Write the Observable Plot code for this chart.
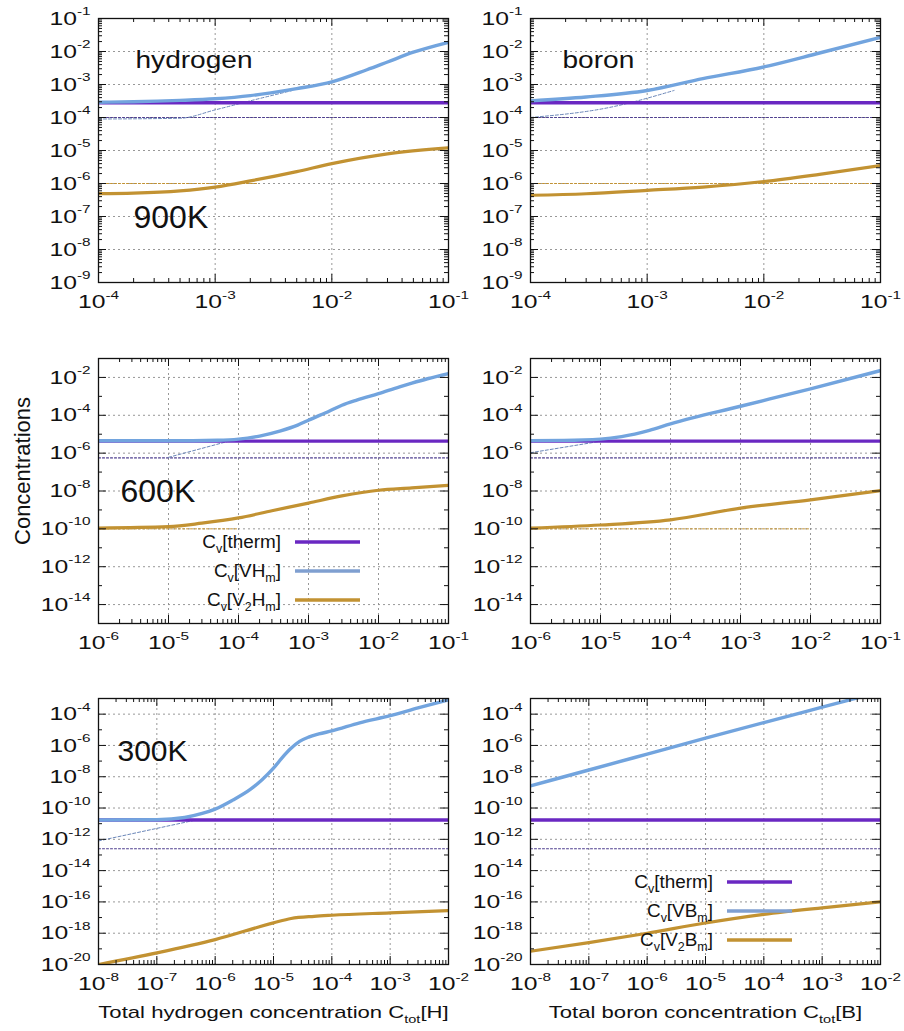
<!DOCTYPE html>
<html><head><meta charset="utf-8">
<script src="https://cdn.jsdelivr.net/npm/d3@7"></script>
<script src="https://cdn.jsdelivr.net/npm/@observablehq/plot@0.6"></script>
<style>
body{margin:0;background:#fff;}
#chart{position:relative;width:904px;height:1031px;overflow:hidden;background:#fff;font-family:"Liberation Sans",Arial,sans-serif;}
.panel{position:absolute;}
.panel svg{overflow:visible;}
</style></head><body><div id="chart"></div>
<script>
// ---------------- DATA ----------------
// 900 K, hydrogen
const h900_therm_x = [1e-4, 1e-1];
const h900_therm   = [2.8e-4, 2.8e-4];
const h900_VH_x = [1e-4, 2e-4, 5e-4, 1e-3, 2e-3, 3e-3, 5e-3, 1e-2, 2e-2, 3e-2, 5e-2, 1e-1];
const h900_VH   = [2.9e-4, 3.0e-4, 3.3e-4, 3.7e-4, 4.6e-4, 5.6e-4, 7.5e-4, 1.2e-3, 2.8e-3, 4.8e-3, 9.5e-3, 1.9e-2];
const h900_V2H_x = [1e-4, 2e-4, 5e-4, 1e-3, 2e-3, 5e-3, 1e-2, 3e-2, 1e-1];
const h900_V2H   = [4.9e-7, 5.1e-7, 6.0e-7, 7.8e-7, 1.2e-6, 2.3e-6, 4.0e-6, 7.9e-6, 1.2e-5];
const h900_thermLow_x = [1e-4, 1e-1];
const h900_thermLow   = [1e-4, 1e-4];
const h900_VHlow_x = [1e-4, 5e-4, 1e-3, 2e-3, 4.6e-3];
const h900_VHlow   = [9e-5, 9.5e-5, 1.7e-4, 3.2e-4, 6.6e-4];
const h900_V2Hlow_x = [1e-4, 2.3e-3];
const h900_V2Hlow   = [1e-6, 1e-6];

// 900 K, boron
const b900_therm_x = [1e-4, 1e-1];
const b900_therm   = [2.8e-4, 2.8e-4];
const b900_VB_x = [1e-4, 3e-4, 1e-3, 3e-3, 1e-2, 3e-2, 1e-1];
const b900_VB   = [3.2e-4, 4.2e-4, 6.6e-4, 1.5e-3, 3.4e-3, 9.0e-3, 2.7e-2];
const b900_V2B_x = [1e-4, 3e-4, 1e-3, 3e-3, 1e-2, 3e-2, 1e-1];
const b900_V2B   = [4.4e-7, 4.9e-7, 6.2e-7, 7.8e-7, 1.15e-6, 1.9e-6, 3.5e-6];
const b900_thermLow_x = [1e-4, 1e-1];
const b900_thermLow   = [1e-4, 1e-4];
const b900_VBlow_x = [1e-4, 4.7e-4, 1.7e-3];
const b900_VBlow   = [1e-4, 2e-4, 6.6e-4];
const b900_V2Blow_x = [1e-4, 1e-1];
const b900_V2Blow   = [1e-6, 1e-6];

// 600 K, hydrogen
const h600_therm_x = [1e-6, 1e-1];
const h600_therm   = [4.3e-6, 4.3e-6];
const h600_VH_x = [1e-6, 1e-5, 5e-5, 1e-4, 2e-4, 4e-4, 7e-4, 1e-3, 2e-3, 3e-3, 5e-3, 1e-2, 2e-2, 3e-2, 5e-2, 1e-1];
const h600_VH   = [4.5e-6, 4.5e-6, 4.8e-6, 5.5e-6, 8e-6, 1.5e-5, 3e-5, 5.5e-5, 1.7e-4, 3.4e-4, 6.5e-4, 1.4e-3, 3.2e-3, 5e-3, 8.5e-3, 1.6e-2];
const h600_V2H_x = [1e-6, 1e-5, 3e-5, 1e-4, 3e-4, 1e-3, 3e-3, 1e-2, 3e-2, 1e-1];
const h600_V2H   = [1.1e-10, 1.3e-10, 2e-10, 3.8e-10, 9e-10, 2.3e-9, 5.5e-9, 1.1e-8, 1.45e-8, 2e-8];
const h600_thermLow_x = [1e-6, 1e-1];
const h600_thermLow   = [5.6e-7, 5.6e-7];
const h600_VHlow_x = [1e-5, 1e-4];
const h600_VHlow   = [6e-7, 5.9e-6];
const h600_V2Hlow_x = [1e-6, 1e-4];
const h600_V2Hlow   = [1e-10, 1e-10];

// 600 K, boron
const b600_therm_x = [1e-6, 1e-1];
const b600_therm   = [4.3e-6, 4.3e-6];
const b600_VB_x = [1e-6, 3e-6, 1e-5, 2e-5, 5e-5, 1e-4, 1e-3, 1e-2, 1e-1];
const b600_VB   = [4.6e-6, 4.7e-6, 5.5e-6, 7.5e-6, 1.6e-5, 3.5e-5, 3e-4, 2.5e-3, 2.3e-2];
const b600_V2B_x = [1e-6, 1e-5, 1e-4, 1e-3, 1e-2, 1e-1];
const b600_V2B   = [1.1e-10, 1.6e-10, 3e-10, 1.25e-9, 3.4e-9, 1.05e-8];
const b600_thermLow_x = [1e-6, 1e-1];
const b600_thermLow   = [5.6e-7, 5.6e-7];
const b600_VBlow_x = [1e-6, 1.1e-5];
const b600_VBlow   = [1.05e-6, 4.5e-6];
const b600_V2Blow_x = [1e-6, 1e-2];
const b600_V2Blow   = [1e-10, 1e-10];

// 300 K, hydrogen
const h300_therm_x = [1e-8, 1e-2];
const h300_therm   = [1.7e-11, 1.7e-11];
const h300_VH_x = [1e-8, 1e-7, 3e-7, 6e-7, 1e-6, 2e-6, 4e-6, 6.3e-6, 1e-5, 1.4e-5, 2e-5, 2.8e-5, 4e-5, 6e-5, 1e-4, 3e-4, 1e-3, 3e-3, 1e-2];
const h300_VH   = [1.7e-11, 1.8e-11, 2.5e-11, 4.5e-11, 8.5e-11, 3.2e-10, 1.55e-9, 6.2e-9, 3.5e-8, 1.6e-7, 6.5e-7, 1.8e-6, 3.4e-6, 5.4e-6, 8.5e-6, 2.8e-5, 8e-5, 2.5e-4, 8.3e-4];
const h300_V2H_x = [1e-8, 1e-7, 1e-6, 1e-5, 2e-5, 5e-5, 1e-4, 1e-3, 1e-2];
const h300_V2H   = [1e-20, 5.5e-20, 3.9e-19, 4.6e-18, 8.7e-18, 1.2e-17, 1.4e-17, 2e-17, 2.8e-17];
const h300_thermLow_x = [1e-8, 1e-2];
const h300_thermLow   = [2.5e-13, 2.5e-13];
const h300_VHlow_x = [1e-8, 4.6e-7];
const h300_VHlow   = [7.9e-13, 1.7e-11];

// 300 K, boron
const b300_therm_x = [1e-8, 1e-2];
const b300_therm   = [1.7e-11, 1.7e-11];
const b300_VB_x = [1e-8, 1e-7, 1e-6, 1e-5, 1e-4, 1e-3, 1e-2];
const b300_VB   = [2.6e-9, 2.7e-8, 2.8e-7, 2.9e-6, 2.9e-5, 2.8e-4, 2.7e-3];
const b300_V2B_x = [1e-8, 1e-7, 1e-6, 1e-5, 1e-4, 1e-3, 1e-2];
const b300_V2B   = [7e-20, 2.5e-19, 1e-18, 4.5e-18, 1.6e-17, 4.2e-17, 1e-16];
const b300_thermLow_x = [1e-8, 1e-2];
const b300_thermLow   = [2.5e-13, 2.5e-13];

// tick values
const X900 = [1e-4, 1e-3, 1e-2, 1e-1];
const Y900 = [1e-9, 1e-8, 1e-7, 1e-6, 1e-5, 1e-4, 1e-3, 1e-2, 1e-1];
const X600 = [1e-6, 1e-5, 1e-4, 1e-3, 1e-2, 1e-1];
const Y600 = [1e-14, 1e-12, 1e-10, 1e-8, 1e-6, 1e-4, 1e-2];
const Y600odd = [1e-13, 1e-11, 1e-9, 1e-7, 1e-5, 1e-3];
const X300 = [1e-8, 1e-7, 1e-6, 1e-5, 1e-4, 1e-3, 1e-2];
const Y300 = [1e-20, 1e-18, 1e-16, 1e-14, 1e-12, 1e-10, 1e-8, 1e-6, 1e-4];
const Y300odd = [1e-19, 1e-17, 1e-15, 1e-13, 1e-11, 1e-9, 1e-7, 1e-5];

// labels
const legendH = ["C_{v}[therm]", "C_{v}[VH_{m}]", "C_{v}[V_{2}H_{m}]"];
const legendB = ["C_{v}[therm]", "C_{v}[VB_{m}]", "C_{v}[V_{2}B_{m}]"];
const xTitleH = "Total hydrogen concentration C_{tot}[H]";
const xTitleB = "Total boron concentration C_{tot}[B]";
const yTitle = "Concentrations";

// ---------------- STYLE ----------------
const PURPLE = "#6a28c2", BLUE = "#72a4de", GOLD = "#c29232", LEGBLUE = "#7f9fd0";
const FONT = "'Liberation Sans', Arial, Helvetica, sans-serif";

const zip = (xs, ys) => xs.map((x, i) => ({x, y: ys[i]}));
const minors = decs => decs.slice(0, -1).flatMap(d => [2,3,4,5,6,7,8,9].map(m => d * m));

function series(xs, ys, kind) {
  const st = {
    therm: {stroke: PURPLE, strokeWidth: 3.4},
    VH: {stroke: BLUE, strokeWidth: 3.4},
    V2H: {stroke: GOLD, strokeWidth: 3.2},
    thermLow: {stroke: "#4f3f8f", strokeWidth: 1.1, strokeDasharray: "2,2"},
    VHlow: {stroke: "#6a86b8", strokeWidth: 1, strokeDasharray: "3,2"},
    V2Hlow: {stroke: GOLD, strokeWidth: 1, strokeDasharray: "2,2"}
  }[kind];
  return Plot.line(zip(xs, ys), {x: "x", y: "y", curve: "monotone-x", clip: true, ...st});
}

function legendMark(labels) {
  const cols = [PURPLE, LEGBLUE, GOLD];
  return (index, scales, values, dims) => {
    const g = d3.create("svg:g");
    labels.forEach((lab, i) => {
      const y = dims.marginTop + 184 + i * 29;
      g.append("line").attr("x1", dims.marginLeft + 197).attr("x2", dims.marginLeft + 262)
        .attr("y1", y).attr("y2", y).attr("stroke", cols[i]).attr("stroke-width", 3.6);
      g.append("text").attr("x", dims.marginLeft + 183).attr("y", y).attr("dy", "0.32em")
        .attr("text-anchor", "end").attr("font-size", 18).attr("fill", "#111").text(lab);
    });
    return g.node();
  };
}

const panels = [
  {left: 0, top: 0, width: 452, height: 320, mt: 18, mb: 38, ml: 98, mr: 4,
   xdom: [1e-4, 1e-1], ydom: [1e-9, 1e-1], xMajor: X900, xMinor: minors(X900), yLabels: Y900, yMajor: Y900, yMinor: minors(Y900), yGrid: Y900,
   lines: [[h900_thermLow_x, h900_thermLow, "thermLow"], [h900_VHlow_x, h900_VHlow, "VHlow"], [h900_V2Hlow_x, h900_V2Hlow, "V2Hlow"],
           [h900_therm_x, h900_therm, "therm"], [h900_VH_x, h900_VH, "VH"], [h900_V2H_x, h900_V2H, "V2H"]],
   texts: [["hydrogen", 37, 42, 23], ["900K", 35, 199, 32]]},
  {left: 450, top: 0, width: 454, height: 320, mt: 18, mb: 38, ml: 80, mr: 24,
   xdom: [1e-4, 1e-1], ydom: [1e-9, 1e-1], xMajor: X900, xMinor: minors(X900), yLabels: Y900, yMajor: Y900, yMinor: minors(Y900), yGrid: Y900,
   lines: [[b900_thermLow_x, b900_thermLow, "thermLow"], [b900_VBlow_x, b900_VBlow, "VHlow"], [b900_V2Blow_x, b900_V2Blow, "V2Hlow"],
           [b900_therm_x, b900_therm, "therm"], [b900_VB_x, b900_VB, "VH"], [b900_V2B_x, b900_V2B, "V2H"]],
   texts: [["boron", 32, 42, 23]]},
  {left: 0, top: 320, width: 452, height: 340, mt: 38, mb: 37, ml: 98, mr: 4,
   xdom: [1e-6, 1e-1], ydom: [1e-15, 1e-1], xMajor: X600, xMinor: minors(X600), yLabels: Y600, yMajor: Y600, yMinor: Y600odd, yGrid: Y600,
   lines: [[h600_thermLow_x, h600_thermLow, "thermLow"], [h600_VHlow_x, h600_VHlow, "VHlow"], [h600_V2Hlow_x, h600_V2Hlow, "V2Hlow"],
           [h600_therm_x, h600_therm, "therm"], [h600_VH_x, h600_VH, "VH"], [h600_V2H_x, h600_V2H, "V2H"]],
   texts: [["600K", 22, 133, 32]], legend: legendH, ytitle: true},
  {left: 450, top: 320, width: 454, height: 340, mt: 38, mb: 37, ml: 80, mr: 24,
   xdom: [1e-6, 1e-1], ydom: [1e-15, 1e-1], xMajor: X600, xMinor: minors(X600), yLabels: Y600, yMajor: Y600, yMinor: Y600odd, yGrid: Y600,
   lines: [[b600_thermLow_x, b600_thermLow, "thermLow"], [b600_VBlow_x, b600_VBlow, "VHlow"], [b600_V2Blow_x, b600_V2Blow, "V2Hlow"],
           [b600_therm_x, b600_therm, "therm"], [b600_VB_x, b600_VB, "VH"], [b600_V2B_x, b600_V2B, "V2H"]],
   texts: []},
  {left: 0, top: 660, width: 452, height: 371, mt: 38, mb: 67, ml: 98, mr: 4,
   xdom: [1e-8, 1e-2], ydom: [1e-20, 1e-3], xMajor: X300, xMinor: minors(X300), yLabels: Y300, yMajor: Y300, yMinor: Y300odd, yGrid: Y300,
   lines: [[h300_thermLow_x, h300_thermLow, "thermLow"], [h300_VHlow_x, h300_VHlow, "VHlow"],
           [h300_therm_x, h300_therm, "therm"], [h300_VH_x, h300_VH, "VH"], [h300_V2H_x, h300_V2H, "V2H"]],
   texts: [["300K", 19, 53, 30]], xtitle: xTitleH},
  {left: 450, top: 660, width: 454, height: 371, mt: 38, mb: 67, ml: 80, mr: 24,
   xdom: [1e-8, 1e-2], ydom: [1e-20, 1e-3], xMajor: X300, xMinor: minors(X300), yLabels: Y300, yMajor: Y300, yMinor: Y300odd, yGrid: Y300,
   lines: [[b300_thermLow_x, b300_thermLow, "thermLow"],
           [b300_therm_x, b300_therm, "therm"], [b300_VB_x, b300_VB, "VH"], [b300_V2B_x, b300_V2B, "V2H"]],
   texts: [], legend: legendB, xtitle: xTitleB}
];

const fmt = d => `10^{${Math.round(Math.log10(d))}}`;
const STRETCH = {19: 1.3, 17: 1.3, 18: 1.05, 23: 1.22};
const SVGNS = "http://www.w3.org/2000/svg";

function richify(t) {
  const s = t.textContent;
  if (!/[_^]\{/.test(s)) return;
  const fs = parseFloat(getComputedStyle(t).fontSize);
  const re = /([_^])\{([^}]*)\}|([^_^]+)/g;
  t.textContent = "";
  let shift = 0, m;
  while ((m = re.exec(s))) {
    const ts = document.createElementNS(SVGNS, "tspan");
    let target = 0;
    if (m[1] === "^") { target = -0.5 * fs; ts.setAttribute("font-size", (0.62 * fs).toFixed(1)); ts.textContent = m[2]; }
    else if (m[1] === "_") { target = 0.3 * fs; ts.setAttribute("font-size", (0.66 * fs).toFixed(1)); ts.textContent = m[2]; }
    else ts.textContent = m[3];
    const d = target - shift;
    if (d) ts.setAttribute("dy", d.toFixed(1));
    shift = target;
    t.appendChild(ts);
  }
}
function stretch(t) {
  const fs = Math.round(parseFloat(getComputedStyle(t).fontSize));
  const S = STRETCH[fs];
  if (!S) return;
  const L = t.getComputedTextLength();
  if (!(L > 0)) return;
  t.setAttribute("textLength", (L * S).toFixed(1));
  t.setAttribute("lengthAdjust", "spacingAndGlyphs");
}

const chart = document.getElementById("chart");
for (const p of panels) {
  const H = p.height - p.mt - p.mb;
  const W = p.width - p.ml - p.mr;
  const marks = [
    Plot.ruleX(p.xMajor.slice(1, -1), {x: d => d, stroke: "#8c8c8c", strokeWidth: 0.9, strokeDasharray: "2,3"}),
    Plot.ruleY(p.yGrid.filter(v => v > p.ydom[0] && v < p.ydom[1]), {y: d => d, stroke: "#8c8c8c", strokeWidth: 0.9, strokeDasharray: "2,3"}),
    ...p.lines.map(([xs, ys, k]) => series(xs, ys, k)),
    Plot.tickX(p.xMajor, {x: d => d, insetTop: H - 8, stroke: "#111"}),
    Plot.tickX(p.xMajor, {x: d => d, insetBottom: H - 8, stroke: "#111"}),
    Plot.tickX(p.xMinor, {x: d => d, insetTop: H - 4, stroke: "#111"}),
    Plot.tickX(p.xMinor, {x: d => d, insetBottom: H - 4, stroke: "#111"}),
    Plot.tickY(p.yMajor, {y: d => d, insetRight: W - 8, stroke: "#111"}),
    Plot.tickY(p.yMajor, {y: d => d, insetLeft: W - 8, stroke: "#111"}),
    Plot.tickY(p.yMinor, {y: d => d, insetRight: W - 4, stroke: "#111"}),
    Plot.tickY(p.yMinor, {y: d => d, insetLeft: W - 4, stroke: "#111"}),
    Plot.frame({stroke: "#111", strokeWidth: 1.3}),
    ...p.texts.map(([s, dx, dy, fs]) => Plot.text([s], {text: d => d, frameAnchor: "top-left", textAnchor: "start", lineAnchor: "middle", dx, dy, fontSize: fs, fill: "#111"}))
  ];
  if (p.legend) marks.push(legendMark(p.legend));
  if (p.ytitle) marks.push(Plot.text([yTitle], {text: d => d, frameAnchor: "left", rotate: -90, dx: -76, dy: -20, fontSize: 22, fill: "#111", lineAnchor: "middle", textAnchor: "middle"}));
  if (p.xtitle) marks.push(Plot.text([p.xtitle], {text: d => d, frameAnchor: "bottom", dy: 47.6, fontSize: 17, fill: "#111", lineAnchor: "middle", textAnchor: "middle"}));

  const svg = Plot.plot({
    width: p.width, height: p.height,
    marginTop: p.mt, marginBottom: p.mb, marginLeft: p.ml, marginRight: p.mr,
    style: {fontFamily: FONT, fontSize: "19px", background: "transparent", overflow: "visible", color: "#111"},
    x: {type: "log", domain: p.xdom, ticks: p.xMajor, tickFormat: fmt, tickSize: 0, tickPadding: 12, label: null},
    y: {type: "log", domain: p.ydom, ticks: p.yLabels, tickFormat: fmt, tickSize: 0, tickPadding: 8, label: null},
    marks
  });
  const div = document.createElement("div");
  div.className = "panel";
  div.style.left = p.left + "px"; div.style.top = p.top + "px";
  div.appendChild(svg);
  chart.appendChild(div);
  svg.querySelectorAll("text").forEach(t => { richify(t); stretch(t); });
}
</script></body></html>
